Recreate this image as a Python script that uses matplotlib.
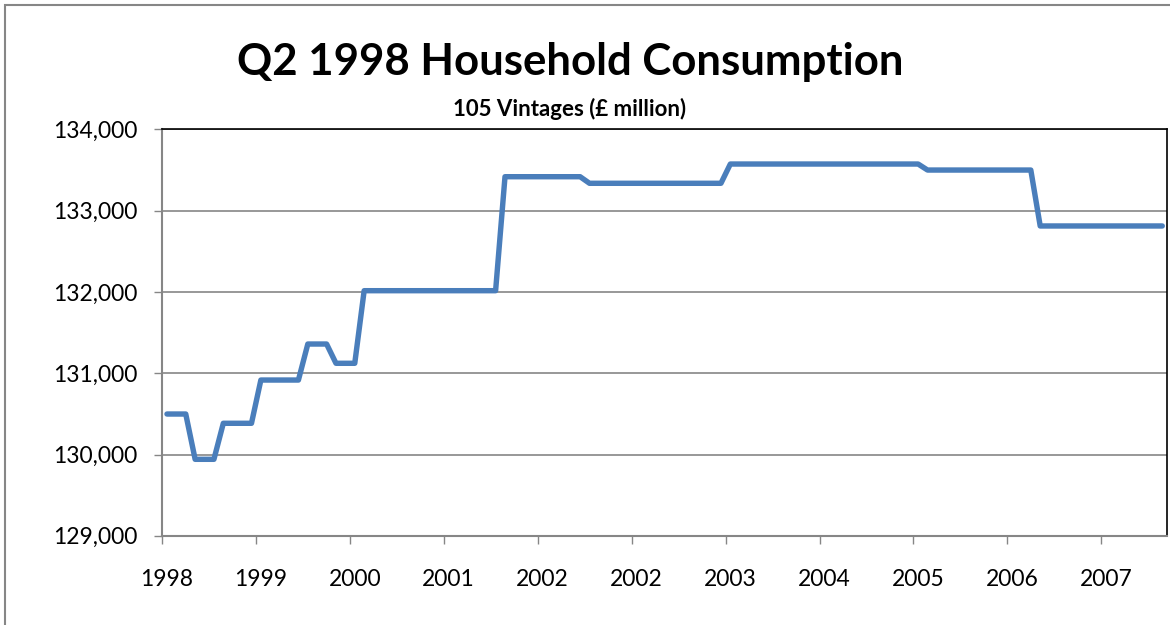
import matplotlib.pyplot as plt
from matplotlib.patches import Rectangle
from matplotlib.ticker import FixedLocator, FuncFormatter

# one value per vintage (£ million)
consumption = [
    130498, 130498, 130498,
    129941, 129941, 129941,
    130384, 130384, 130384, 130384,
    130916, 130916, 130916, 130916, 130916,
    131359, 131359, 131359,
    131122, 131122, 131122,
    132015, 132015, 132015, 132015, 132015, 132015, 132015, 132015,
    132015, 132015, 132015, 132015, 132015, 132015, 132015,
    133417, 133417, 133417, 133417, 133417, 133417, 133417, 133417, 133417,
    133336, 133336, 133336, 133336, 133336, 133336, 133336, 133336,
    133336, 133336, 133336, 133336, 133336, 133336, 133336,
    133573, 133573, 133573, 133573, 133573, 133573, 133573, 133573, 133573,
    133573, 133573, 133573, 133573, 133573, 133573, 133573, 133573, 133573,
    133573, 133573, 133573,
    133499, 133499, 133499, 133499, 133499, 133499, 133499, 133499, 133499,
    133499, 133499, 133499,
    132811, 132811, 132811, 132811, 132811, 132811, 132811, 132811, 132811,
    132811, 132811, 132811, 132811, 132811,
]
year_labels = ['1998', '1999', '2000', '2001', '2002', '2002',
               '2003', '2004', '2005', '2006', '2007']
label_every = 10

plt.rcParams['font.family'] = ['Lato', 'DejaVu Sans']

fig = plt.figure(figsize=(11.7, 6.25), dpi=100)
ax = fig.add_axes([0.1387, 0.1427, 0.9974 - 0.1387, 0.7931 - 0.1427])

n = len(consumption)
x = list(range(n))
ax.plot(x, consumption, color='#4A7EBB', lw=3.9,
        solid_joinstyle='round', solid_capstyle='round', zorder=3)

# category axis, labels centred on categories, tick marks between them
ax.set_xlim(-0.5, n - 0.5)
ax.xaxis.set_major_locator(FixedLocator([i - 0.5 for i in range(0, n, label_every)]))
ax.xaxis.set_major_formatter(FuncFormatter(lambda v, p: ''))
ax.set_xticks(list(range(0, n, label_every)), year_labels, minor=True)
ax.tick_params(axis='x', which='major', direction='out', length=6, width=1,
               color='#868686')
ax.tick_params(axis='x', which='minor', length=0, pad=24, labelsize=16.5)

ax.set_ylim(129000, 134000)
ax.set_yticks(range(129000, 134001, 1000))
ax.yaxis.set_major_formatter(FuncFormatter(lambda v, p: f'{int(v):,}'))
ax.tick_params(axis='y', direction='out', length=6, width=1, color='#868686',
               labelsize=16.5, pad=12)
ax.grid(axis='y', color='#868686', lw=1.2, zorder=1)

for side in ['left', 'bottom']:
    ax.spines[side].set_color('#868686')
    ax.spines[side].set_linewidth(1.5)
for side in ['top', 'right']:
    ax.spines[side].set_color('black')
    ax.spines[side].set_linewidth(1.2)

fig.text(0.487, 0.9, 'Q2 1998 Household Consumption', ha='center', va='center',
         fontsize=31.5, fontweight='bold')
fig.text(0.487, 0.826, '105 Vintages (£ million)', ha='center', va='center',
         fontsize=16, fontweight='bold')

# chart area border
fig.patches.append(Rectangle((5 / 1170, -0.1), 1.2, 1 - 5 / 625 + 0.1,
                             transform=fig.transFigure, fill=False,
                             edgecolor='#868686', lw=1.5))

fig.savefig('out.png', dpi=100)
